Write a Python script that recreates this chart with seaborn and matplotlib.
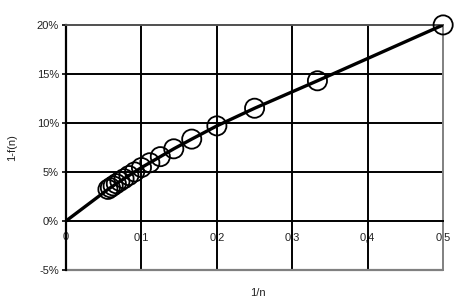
import matplotlib
matplotlib.use("Agg")
import matplotlib.pyplot as plt
import seaborn as sns
import pandas as pd
from matplotlib.ticker import FuncFormatter

sns.set_theme(style="white")
plt.rcParams['font.family'] = ['Liberation Sans', 'DejaVu Sans']

# data: n = 2..18, x = 1/n, y = 1 - f(n)
n_values = [2, 3, 4, 5, 6, 7, 8, 9, 10, 11, 12, 13, 14, 15, 16, 17, 18]
y_values = [0.200, 0.143, 0.115, 0.097, 0.0835, 0.0736, 0.0656, 0.0594, 0.0545,
            0.0500, 0.0463, 0.0431, 0.0404, 0.0380, 0.0358, 0.0339, 0.0322]
x_ticks = [0, 0.1, 0.2, 0.3, 0.4, 0.5]
y_ticks = [-0.05, 0, 0.05, 0.10, 0.15, 0.20]

df = pd.DataFrame({"x": [1.0 / n for n in n_values], "y": y_values})
line_df = pd.concat([pd.DataFrame({"x": [0.0], "y": [0.0]}), df], ignore_index=True)

fig = plt.figure(figsize=(4.65, 3.04), dpi=100)
ax = fig.add_axes([0.142, 0.112, 0.811, 0.806])

grid_kw = dict(color="black", lw=1.4, zorder=1)
for yt in [0.05, 0.10, 0.15]:
    ax.axhline(yt, **grid_kw)
for xt in [0.1, 0.2, 0.3, 0.4]:
    ax.axvline(xt, **grid_kw)

sns.scatterplot(data=df, x="x", y="y", ax=ax, s=190, facecolor="none",
                edgecolor="black", linewidth=1.3, zorder=3, clip_on=False)
sns.lineplot(data=line_df, x="x", y="y", ax=ax, color="black", lw=2.4,
             sort=True, zorder=4)

ax.set_xlim(0, 0.5)
ax.set_ylim(-0.05, 0.20)
ax.set_xticks(x_ticks)
ax.set_yticks(y_ticks)
ax.xaxis.set_major_formatter(FuncFormatter(lambda v, p: "0" if abs(v) < 1e-9 else f"{v:.1f}".replace(".", ",")))
ax.yaxis.set_major_formatter(FuncFormatter(lambda v, p: f"{v*100:.0f}%"))

ax.spines['bottom'].set_position(('data', 0))
ax.spines['bottom'].set_color("black")
ax.spines['bottom'].set_linewidth(1.4)
ax.spines['left'].set_color("black")
ax.spines['left'].set_linewidth(1.6)
ax.spines['right'].set_color("#808080")
ax.spines['right'].set_linewidth(1.4)
ax.spines['top'].set_color("#505050")
ax.spines['top'].set_linewidth(1.4)
ax.axhline(-0.05, color="#808080", lw=1.6, zorder=2, clip_on=False)

ax.tick_params(axis='x', length=0, pad=8, labelsize=8, colors="#222222")
ax.tick_params(axis='y', length=3, width=1.2, direction='out', left=True,
               pad=2, labelsize=8, colors="#222222")
ax.tick_params(axis='y', color="black")

ax.set_xlabel("1/n", fontsize=8, color="#222222")
ax.set_ylabel("1-f(n)", fontsize=8, color="#222222")
ax.xaxis.set_label_coords(0.51, -0.075)
ax.yaxis.set_label_coords(-0.13, 0.5)

fig.savefig("out.png", dpi=100)
